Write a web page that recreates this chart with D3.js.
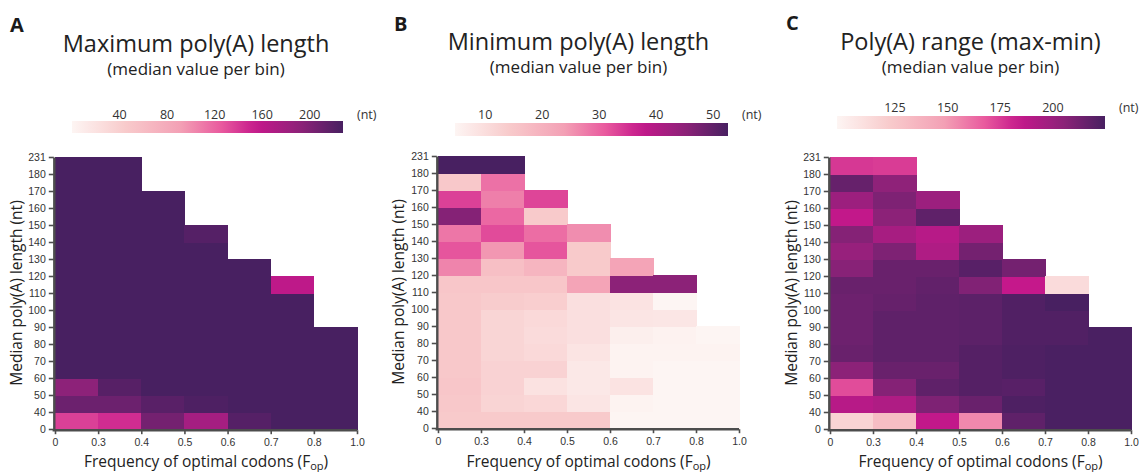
<!DOCTYPE html>
<html>
<head>
<meta charset="utf-8">
<script src="https://cdn.jsdelivr.net/npm/d3@7"></script>
<style>
  body { margin: 0; background: #fff; }
  svg { font-family: "Open Sans", sans-serif; }
  .tick text { fill: #333; font-size: 10.5px; }
</style>
</head>
<body>
<svg id="chart" width="1139" height="472"></svg>
<script>
const w = 1139;
const h = 472;

// bin edges on the axes
const colLabels = ["0", "0.3", "0.4", "0.5", "0.6", "0.7", "0.8", "1.0"];
const rowLabels = ["0", "40", "50", "60", "70", "80", "90", "100", "110", "120",
  "130", "140", "150", "160", "170", "180", "231"];

// values per F_op column, listed from the bottom bin (0-40) upwards
const maxLength = [
  [137, 209, 192, 228, 228, 228, 228, 228, 228, 228, 228, 228, 228, 228, 228, 228],
  [146, 209, 220, 228, 228, 228, 228, 228, 228, 228, 228, 228, 228, 228, 228, 228],
  [205, 219, 228, 228, 228, 228, 228, 228, 228, 228, 228, 228, 228, 228],
  [176, 225, 228, 228, 228, 228, 228, 228, 228, 228, 228, 221],
  [221, 228, 228, 228, 228, 228, 228, 228, 228, 228],
  [228, 228, 228, 228, 228, 228, 228, 228, 160],
  [228, 228, 228, 228, 228, 228]
];
const minLength = [
  [14.3, 14.8, 15.2, 14.8, 14.8, 14.8, 14.8, 14.8, 15.2, 26.7, 31.5, 28.2, 45.9, 33.4, 14.8, 52.6],
  [14.3, 12.1, 12.4, 12.4, 11.9, 11.9, 11.9, 13.8, 15.2, 16.7, 24.8, 32.5, 29.6, 27.2, 28.7, 52.6],
  [14.3, 11.4, 9, 12.4, 11, 10.5, 11, 13.3, 15.2, 19, 31.5, 29.1, 14.3, 33],
  [14.3, 8.3, 7.6, 7.6, 8.5, 9.5, 9.5, 9.5, 22.9, 14.3, 14.3, 25.8],
  [4.7, 5.2, 8.8, 5.2, 5.2, 6.1, 8.3, 8.8, 45.2, 22.9],
  [4.7, 4.7, 4.7, 4.7, 5.2, 5.4, 8, 4.7, 45.2],
  [4.7, 4.7, 4.7, 4.7, 5.2, 4.7]
];
const rangeLength = [
  [117, 189, 171, 205, 215, 214, 214, 214, 215, 206, 201, 207, 185, 199, 216, 176],
  [131, 192, 207, 215, 218, 218, 218, 216, 215, 215, 209, 195, 205, 209, 204, 175],
  [185, 209, 218, 215, 218, 218, 218, 218, 217, 215, 192, 189, 218, 199],
  [155, 215, 221, 221, 221, 219, 219, 219, 208, 220, 212, 199],
  [218, 223, 220, 223, 223, 222, 222, 222, 184, 212],
  [224, 224, 224, 224, 224, 222, 222, 225, 113],
  [224, 224, 224, 224, 224, 224]
];

// colour bar domains and tick labels
const legendDomainA = [0, 228];
const legendTicksA = [40, 80, 120, 160, 200];
const legendDomainB = [4.7, 52.6];
const legendTicksB = [10, 20, 30, 40, 50];
const legendDomainC = [97.5, 224.7];
const legendTicksC = [125, 150, 175, 200];

// shared colour ramp (near white -> pink -> magenta -> dark purple)
const rampStops = [0, 0.2, 0.4, 0.55, 0.68, 0.84, 1];
const rampColors = ["#fdf5f3", "#f8cacb", "#f3a0b5", "#e95a9e", "#c5188b", "#8e2279", "#482061"];
const ramp = d3.scaleLinear().domain(rampStops).range(rampColors).interpolate(d3.interpolateRgb);

const panels = [
  {
    letter: "A", title: "Maximum poly(A) length", values: maxLength,
    domain: legendDomainA, ticks: legendTicksA,
    x0: 55, x1: 357, yTop: 157, yBot: 429,
    lx0: 72, lx1: 343, ly: 121, lh: 12, lLabelY: 119,
    letterX: 10, letterY: 32, titleY: 52, subY: 75, yTitleX: 22
  },
  {
    letter: "B", title: "Minimum poly(A) length", values: minLength,
    domain: legendDomainB, ticks: legendTicksB,
    x0: 438, x1: 739, yTop: 156, yBot: 428,
    lx0: 455, lx1: 728, ly: 123, lh: 13, lLabelY: 119,
    letterX: 394, letterY: 31, titleY: 50, subY: 73, yTitleX: 404
  },
  {
    letter: "C", title: "Poly(A) range (max-min)", values: rangeLength,
    domain: legendDomainC, ticks: legendTicksC,
    x0: 830, x1: 1131, yTop: 157, yBot: 429,
    lx0: 837, lx1: 1105, ly: 116, lh: 13, lLabelY: 112,
    letterX: 786, letterY: 30, titleY: 50, subY: 73, yTitleX: 797
  }
];

const svg = d3.select("#chart");
const defs = svg.append("defs");

panels.forEach((p, k) => {
  const g = svg.append("g");
  const cx = (p.x0 + p.x1) / 2;

  const xScale = d3.scaleLinear().domain([0, colLabels.length - 1]).range([p.x0, p.x1]);
  const yScale = d3.scaleLinear().domain([0, rowLabels.length - 1]).range([p.yBot, p.yTop]);
  const color = d3.scaleLinear().domain(p.domain).range([0, 1]).clamp(true);

  //Cells
  const cells = [];
  p.values.forEach((col, i) => col.forEach((v, j) => cells.push({ i, j, v })));

  g.selectAll("rect.cell")
    .data(cells)
    .enter()
    .append("rect")
    .attr("class", "cell")
    .attr("shape-rendering", "crispEdges")
    .attr("x", (d) => xScale(d.i))
    .attr("y", (d) => yScale(d.j + 1))
    .attr("width", (d) => xScale(d.i + 1) - xScale(d.i) + 0.5)
    .attr("height", (d) => yScale(d.j) - yScale(d.j + 1) + 0.5)
    .attr("fill", (d) => ramp(color(d.v)));

  //Axes
  const xAxis = d3.axisBottom(xScale)
    .tickValues(d3.range(colLabels.length))
    .tickFormat((d) => colLabels[d])
    .tickSize(4).tickSizeOuter(0).tickPadding(4);
  const yAxis = d3.axisLeft(yScale)
    .tickValues(d3.range(rowLabels.length))
    .tickFormat((d) => rowLabels[d])
    .tickSize(5).tickSizeOuter(0).tickPadding(3);

  const gx = g.append("g").attr("transform", `translate(0, ${p.yBot + 1.2})`).call(xAxis);
  const gy = g.append("g").attr("transform", `translate(${p.x0 - 1.2}, 0)`).call(yAxis);
  [gx, gy].forEach((a) => {
    a.select(".domain").attr("stroke", "#4d4d4d").attr("stroke-width", 2.4);
    a.selectAll(".tick line").attr("stroke", "#4d4d4d").attr("stroke-width", 1.6);
  });
  gx.select(".domain").attr("d", `M${p.x0 - 2.4},0H${p.x1}`);

  //Axis titles
  g.append("text")
    .attr("transform", `translate(${p.yTitleX}, ${(p.yTop + p.yBot) / 2}) rotate(-90)`)
    .attr("text-anchor", "middle")
    .attr("font-size", 15.5)
    .attr("fill", "#222")
    .text("Median poly(A) length (nt)");

  const xt = g.append("text")
    .attr("x", cx)
    .attr("y", 467)
    .attr("text-anchor", "middle")
    .attr("font-size", 15.5)
    .attr("fill", "#222");
  xt.append("tspan").text("Frequency of optimal codons (F");
  xt.append("tspan").attr("font-size", 11).attr("dy", 3).text("op");
  xt.append("tspan").attr("dy", -3).text(")");

  //Titles
  g.append("text")
    .attr("x", p.letterX).attr("y", p.letterY)
    .attr("font-size", 20).attr("font-weight", "bold").attr("fill", "#1a1a1a")
    .text(p.letter);
  g.append("text")
    .attr("x", cx - 10).attr("y", p.titleY)
    .attr("text-anchor", "middle").attr("font-size", 23.5).attr("fill", "#222")
    .text(p.title);
  g.append("text")
    .attr("x", cx - 10).attr("y", p.subY)
    .attr("text-anchor", "middle").attr("font-size", 17).attr("fill", "#222")
    .text("(median value per bin)");

  //Colour bar
  const grad = defs.append("linearGradient").attr("id", "grad" + k);
  d3.range(0, 1.0001, 0.05).forEach((t) => {
    grad.append("stop").attr("offset", t).attr("stop-color", ramp(t));
  });
  const lScale = d3.scaleLinear().domain(p.domain).range([p.lx0, p.lx1]);
  g.append("rect")
    .attr("x", p.lx0).attr("y", p.ly)
    .attr("width", p.lx1 - p.lx0).attr("height", p.lh)
    .attr("fill", `url(#grad${k})`);
  g.selectAll("text.ltick")
    .data(p.ticks)
    .enter()
    .append("text")
    .attr("class", "ltick")
    .attr("x", (d) => lScale(d))
    .attr("y", p.lLabelY)
    .attr("text-anchor", "middle")
    .attr("font-size", 12.5)
    .attr("fill", "#333")
    .text((d) => d);
  g.append("text")
    .attr("x", p.lx1 + 14).attr("y", p.lLabelY)
    .attr("font-size", 12.5).attr("fill", "#333")
    .text("(nt)");
});
</script>
</body>
</html>
